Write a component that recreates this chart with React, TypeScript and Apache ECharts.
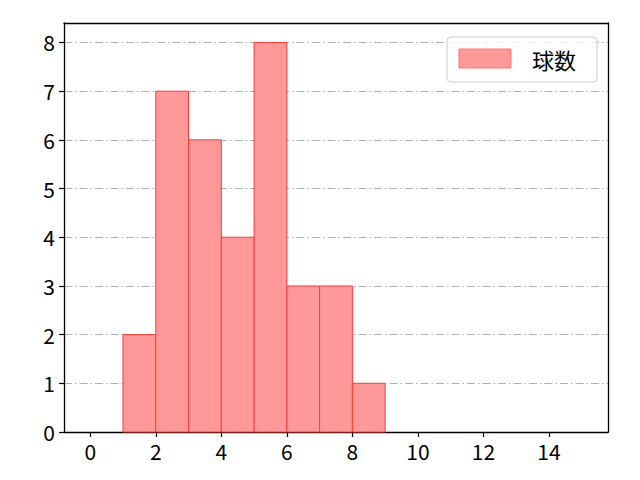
import React, { useEffect, useRef } from "react";
import * as echarts from "echarts";

const binStarts = [1, 2, 3, 4, 5, 6, 7, 8];
const binEnds = [2, 3, 4, 5, 6, 7, 8, 9];
const counts = [2, 7, 6, 4, 8, 3, 3, 1];
const xTicks = [0, 2, 4, 6, 8, 10, 12, 14];
const yTicks = [0, 1, 2, 3, 4, 5, 6, 7, 8];
const seriesName = "球数";

const FONT = "'Noto Sans CJK JP', 'Noto Sans', sans-serif";
const X_MIN = -0.8;
const X_MAX = 15.8;
const Y_MAX = 8.4;

export default function App() {
  const ref = useRef<HTMLDivElement>(null);
  useEffect(() => {
    if (!ref.current) return;
    const chart = echarts.init(ref.current, null, { renderer: "svg" });
    const data = binStarts.map((s, i) => [s, binEnds[i], counts[i]]);
    const spine = { show: true, onZero: false, lineStyle: { color: "#000", width: 1.3 } };
    chart.setOption({
      animation: false,
      grid: { left: 64, right: 32, top: 23, bottom: 48 },
      xAxis: [
        {
          type: "value",
          position: "bottom",
          min: X_MIN,
          max: X_MAX,
          axisLine: spine,
          axisTick: {
            show: true,
            inside: false,
            length: 5,
            lineStyle: { color: "#000", width: 1.2 },
            customValues: xTicks,
          },
          axisLabel: {
            fontSize: 21,
            color: "#000",
            fontFamily: FONT,
            margin: 8,
            customValues: xTicks,
          },
          splitLine: { show: false },
        },
        {
          type: "value",
          position: "top",
          min: X_MIN,
          max: X_MAX,
          axisLine: spine,
          axisTick: { show: false },
          axisLabel: { show: false },
          splitLine: { show: false },
        },
      ],
      yAxis: [
        {
          type: "value",
          position: "left",
          min: 0,
          max: Y_MAX,
          interval: 1,
          axisLine: spine,
          axisTick: {
            show: true,
            inside: false,
            length: 5,
            lineStyle: { color: "#000", width: 1.2 },
            customValues: yTicks,
          },
          axisLabel: {
            fontSize: 21,
            color: "#000",
            fontFamily: FONT,
            margin: 9,
            customValues: yTicks,
          },
          splitLine: {
            show: true,
            lineStyle: { color: "#b0b0b0", width: 1, type: [8, 3, 1.5, 3] },
          },
        },
        {
          type: "value",
          position: "right",
          min: 0,
          max: Y_MAX,
          axisLine: spine,
          axisTick: { show: false },
          axisLabel: { show: false },
          splitLine: { show: false },
        },
      ],
      series: [
        {
          type: "custom",
          name: seriesName,
          xAxisIndex: 0,
          yAxisIndex: 0,
          encode: { x: [0, 1], y: 2 },
          data,
          renderItem: (params: any, api: any) => {
            const p0 = api.coord([api.value(0), api.value(2)]);
            const p1 = api.coord([api.value(1), 0]);
            return {
              type: "rect",
              shape: { x: p0[0], y: p0[1], width: p1[0] - p0[0], height: p1[1] - p0[1] },
              style: { fill: "#ff9999", stroke: "#ff3b3b", lineWidth: 1 },
            };
          },
        },
      ],
      graphic: [
        {
          type: "rect",
          shape: { x: 447, y: 37, width: 150, height: 45, r: 4 },
          style: { fill: "rgba(255,255,255,0.8)", stroke: "#cccccc", lineWidth: 1 },
          z: 100,
        },
        {
          type: "rect",
          shape: { x: 459, y: 49, width: 52, height: 19 },
          style: { fill: "#ff9999", stroke: "#ff7777", lineWidth: 1 },
          z: 101,
        },
        {
          type: "text",
          x: 532,
          y: 59,
          style: {
            text: seriesName,
            fontSize: 22,
            fontFamily: FONT,
            fill: "#000",
            verticalAlign: "middle",
            align: "left",
          },
          z: 101,
        },
      ],
    });
    return () => chart.dispose();
  }, []);
  return (
    <div
      ref={ref}
      style={{ width: 640, height: 480, position: "absolute", left: 0, top: 0 }}
    />
  );
}
